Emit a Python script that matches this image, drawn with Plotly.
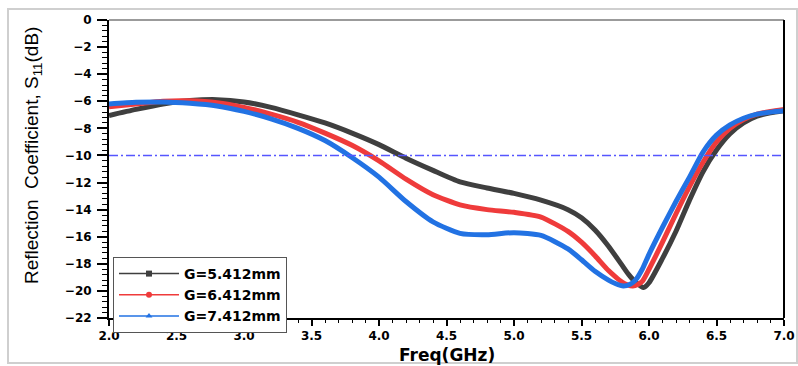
import plotly.graph_objects as go

# ---- data ----
freq_black = [2.0, 2.2, 2.4, 2.6, 2.8, 3.0, 3.2, 3.4, 3.6, 3.8, 4.0, 4.2, 4.4, 4.6, 4.8, 5.0,
              5.2, 5.4, 5.5, 5.6, 5.7, 5.8, 5.85, 5.9, 5.96, 6.0, 6.1, 6.2, 6.3, 6.4, 6.5, 6.6,
              6.7, 6.8, 6.9, 7.0]
s11_g5412 = [-7.05, -6.6, -6.2, -5.95, -5.88, -6.05, -6.45, -7.0, -7.6, -8.35, -9.2, -10.2,
             -11.1, -11.95, -12.4, -12.8, -13.3, -14.0, -14.6, -15.5, -16.7, -18.1, -18.8,
             -19.35, -19.75, -19.4, -17.6, -15.6, -13.3, -11.2, -9.6, -8.4, -7.6, -7.1, -6.85,
             -6.7]

freq_red = [2.0, 2.2, 2.4, 2.6, 2.8, 3.0, 3.2, 3.4, 3.6, 3.8, 4.0, 4.2, 4.4, 4.6, 4.8, 5.0,
            5.2, 5.4, 5.5, 5.6, 5.7, 5.75, 5.8, 5.84, 5.88, 5.92, 5.95, 6.0, 6.1, 6.2, 6.3, 6.4,
            6.5, 6.6, 6.7, 6.8, 6.9, 7.0]
s11_g6412 = [-6.4, -6.2, -6.0, -5.97, -6.1, -6.45, -6.95, -7.55, -8.35, -9.25, -10.4, -11.75,
             -12.9, -13.65, -14.0, -14.2, -14.55, -15.6, -16.4, -17.4, -18.5, -18.95, -19.35,
             -19.55, -19.63, -19.5, -19.3, -18.4, -16.4, -14.3, -12.3, -10.5, -9.0, -8.0, -7.35,
             -6.95, -6.75, -6.6]

freq_blue = [2.0, 2.2, 2.4, 2.6, 2.8, 3.0, 3.2, 3.4, 3.6, 3.8, 4.0, 4.2, 4.4, 4.6, 4.8, 5.0,
             5.2, 5.4, 5.5, 5.6, 5.7, 5.75, 5.81, 5.86, 5.9, 5.95, 6.0, 6.1, 6.2, 6.3, 6.4, 6.5,
             6.6, 6.7, 6.8, 6.9, 7.0]
s11_g7412 = [-6.2, -6.08, -6.05, -6.15, -6.35, -6.75, -7.3, -8.0, -8.9, -10.15, -11.6, -13.4,
             -14.9, -15.75, -15.85, -15.7, -15.9, -16.9, -17.7, -18.55, -19.2, -19.45, -19.63,
             -19.5, -19.2, -18.4, -17.3, -15.3, -13.4, -11.6, -9.75, -8.5, -7.75, -7.25, -6.95,
             -6.8, -6.7]

series_names = ["G=5.412mm", "G=6.412mm", "G=7.412mm"]
threshold_db = -10

colors = ["#3f3f3f", "#ef3b3b", "#2272e3"]
symbols = ["square", "circle", "triangle-up"]

fig = go.Figure()

for xs, ys, col in zip([freq_black, freq_red, freq_blue], [s11_g5412, s11_g6412, s11_g7412], colors):
    fig.add_trace(go.Scatter(
        x=xs, y=ys, mode="lines", showlegend=False,
        line=dict(color=col, width=5, shape="spline", smoothing=0.6),
    ))

# legend proxies (thin line + marker, as in the reference legend)
for name, col, sym in zip(series_names, colors, symbols):
    fig.add_trace(go.Scatter(
        x=[None], y=[None], mode="lines+markers", name=name,
        line=dict(color=col, width=1.5),
        marker=dict(symbol=sym, size=6, color=col),
    ))

fig.add_hline(y=threshold_db, line=dict(color="#5656ff", width=1.5, dash="9px,3px,2px,3px"))

tickfont = dict(family="DejaVu Sans", size=12, color="black", weight="bold")

fig.update_xaxes(
    range=[2, 7], tick0=2, dtick=0.5, tickformat=".1f",
    ticks="outside", ticklen=6, tickwidth=1.5, tickcolor="black",
    minor=dict(dtick=0.1, ticks="outside", ticklen=3, tickwidth=1, tickcolor="black"),
    showline=True, linewidth=2, linecolor="black", automargin=False,
    showgrid=False, zeroline=False, tickfont=tickfont,
)
fig.update_yaxes(
    range=[-22, 0], tick0=-22, dtick=2,
    ticks="outside", ticklen=10, tickwidth=1.5, tickcolor="black",
    minor=dict(dtick=0.4, ticks="outside", ticklen=5, tickwidth=1, tickcolor="black"),
    showline=True, linewidth=2, linecolor="black", automargin=False,
    showgrid=False, zeroline=False, tickfont=tickfont, ticklabelstandoff=3,
)

fig.add_annotation(
    text="Freq(GHz)", xref="paper", yref="paper", x=0.5, y=(318 - 355) / 298,
    xanchor="center", yanchor="middle", showarrow=False,
    font=dict(family="DejaVu Sans", size=17, color="black", weight="bold"),
)
fig.add_annotation(
    text="Reflection  Coefficient, S<sub>11</sub>(dB)", textangle=-90,
    xref="paper", yref="paper", x=(33 - 109) / 675, y=(318 - 156) / 298,
    xanchor="center", yanchor="middle", showarrow=False,
    font=dict(family="Liberation Sans", size=19, color="black"),
)

# plot frame: grey top, black right; outer light frame
fig.add_shape(type="line", xref="paper", yref="paper", x0=0, x1=1, y0=1, y1=1,
              line=dict(color="#7a7a7a", width=1.5))
fig.add_shape(type="line", xref="paper", yref="paper", x0=1, x1=1, y0=0, y1=1,
              line=dict(color="black", width=2))
fig.add_shape(type="rect", xref="paper", yref="paper",
              x0=(8 - 109) / 675, x1=(797 - 109) / 675,
              y0=(318 - 363) / 298, y1=(318 - 9) / 298,
              line=dict(color="#cfcfcf", width=2), layer="below")

fig.update_layout(
    width=798, height=366,
    margin=dict(l=109, r=14, t=20, b=48, autoexpand=False),
    paper_bgcolor="white", plot_bgcolor="white",
    legend=dict(
        x=(113 - 109) / 675, y=(318 - 257) / 298, xanchor="left", yanchor="top",
        bgcolor="white", bordercolor="#555555", borderwidth=1,
        font=dict(family="DejaVu Sans", size=14, color="black", weight="bold"),
        itemwidth=60, tracegroupgap=0,
    ),
)

fig.write_html("out.html")
